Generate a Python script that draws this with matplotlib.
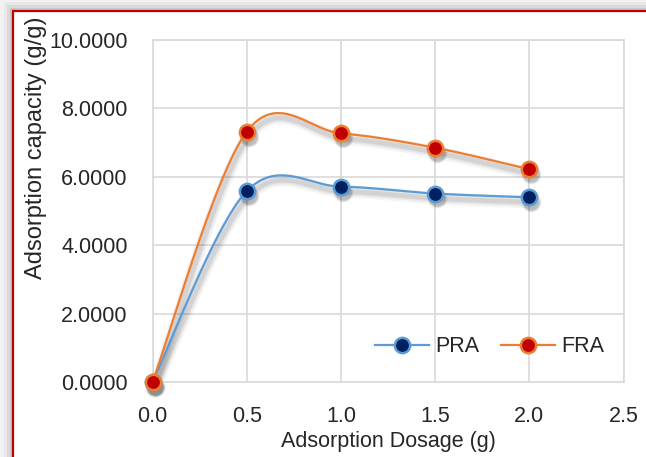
import numpy as np
import matplotlib.pyplot as plt
import matplotlib.transforms as mtransforms
from matplotlib.patches import Rectangle

plt.rcParams['font.family'] = ['Liberation Sans', 'DejaVu Sans']

dosage = [0.0, 0.5, 1.0, 1.5, 2.0]
pra = [0.0, 5.58, 5.71, 5.51, 5.40]
fra = [0.0, 7.32, 7.27, 6.85, 6.22]

text_color = '#262626'
grid_color = '#d9d9d9'
fs = 15.5


def smooth_curve(x, y, n=40):
    # Catmull-Rom style bezier, like the spreadsheet "smoothed line" option
    x = np.asarray(x, float)
    y = np.asarray(y, float)
    px = np.concatenate([[x[0]], x, [x[-1]]])
    py = np.concatenate([[y[0]], y, [y[-1]]])
    xs, ys = [], []
    t = np.linspace(0, 1, n)
    for i in range(1, len(px) - 2):
        p1 = np.array([px[i], py[i]])
        p2 = np.array([px[i + 1], py[i + 1]])
        b1 = p1 + (p2 - np.array([px[i - 1], py[i - 1]])) / 6
        b2 = p2 - (np.array([px[i + 2], py[i + 2]]) - p1) / 6
        pts = ((1 - t) ** 3)[:, None] * p1 + (3 * t * (1 - t) ** 2)[:, None] * b1 \
            + (3 * t ** 2 * (1 - t))[:, None] * b2 + (t ** 3)[:, None] * p2
        xs.extend(pts[:, 0])
        ys.extend(pts[:, 1])
    return np.array(xs), np.array(ys)


fig = plt.figure(figsize=(6.46, 4.57), dpi=100)
fig.patch.set_facecolor('#f2f2f2')

# gray drop shadow around the frame, then the white frame with red border
W, H = 646, 457
for off, col in [(9, '#e8e8e8'), (6, '#d9d9d9'), (3, '#c8c8c8')]:
    fig.patches.append(Rectangle(((13 - off) / W, 0), 1, (H - 11 + off) / H,
                                 transform=fig.transFigure, facecolor=col,
                                 edgecolor='none', zorder=-3))
fig.patches.append(Rectangle((13 / W, -0.1), 1, (H - 11) / H + 0.1,
                             transform=fig.transFigure, facecolor='white',
                             edgecolor='#c00000', linewidth=1.6, zorder=-2))

ax = fig.add_axes([152.5 / W, 1 - 382 / H, (623.5 - 152.5) / W, (382 - 40) / H])
ax.set_facecolor('none')

series = [
    ('PRA', pra, '#5b9bd5', '#002060'),
    ('FRA', fra, '#ed7d31', '#c00000'),
]

shift = ax.transData + mtransforms.ScaledTranslation(1.5 / 72, -3.5 / 72, fig.dpi_scale_trans)
for label, vals, line_col, face_col in series:
    sx, sy = smooth_curve(dosage, vals)
    # soft shadow: a few offset strokes stacked with low alpha
    for lw, a in [(9, 0.04), (6, 0.06), (3.5, 0.08)]:
        ax.plot(sx, sy, color='black', lw=lw, alpha=a, transform=shift,
                solid_capstyle='round', zorder=2)
        ax.plot(dosage, vals, 'o', ms=10 + lw / 2, color='black', alpha=a * 1.5,
                mec='none', transform=shift, zorder=2, clip_on=False)
    ax.plot(sx, sy, color=line_col, lw=1.6, zorder=3)
    ax.plot(dosage, vals, 'o', ms=11, mfc=face_col, mec=line_col, mew=1.8,
            zorder=4, clip_on=False)
    # legend proxy
    ax.plot([], [], '-o', color=line_col, lw=1.6, ms=11, mfc=face_col,
            mec=line_col, mew=1.8, label=label)

ax.set_xlim(0, 2.5)
ax.set_ylim(0, 10)
ax.set_xticks(np.arange(0, 2.51, 0.5))
ax.set_yticks(np.arange(0, 10.1, 2))
ax.set_xticklabels([f'{v:.1f}' for v in np.arange(0, 2.51, 0.5)])
ax.set_yticklabels([f'{v:.4f}' for v in np.arange(0, 10.1, 2)])
ax.grid(True, color=grid_color, lw=1.2, zorder=0)
ax.set_axisbelow(True)
for s in ax.spines.values():
    s.set_color(grid_color)
    s.set_linewidth(1.2)
ax.tick_params(length=0, labelsize=fs, colors=text_color)
ax.tick_params(axis='y', pad=18)
ax.tick_params(axis='x', pad=17)

ax.set_xlabel('Adsorption Dosage (g)', fontsize=fs, color=text_color, labelpad=3)
ax.set_ylabel('Adsorption capacity (g/g)', fontsize=17, color=text_color)
ax.yaxis.set_label_coords(-0.224, 0.684)

leg = ax.legend(loc='lower right', bbox_to_anchor=(1.0, 0.015), ncol=2, frameon=False,
                fontsize=fs, handlelength=2.5, columnspacing=1.0, handletextpad=0.3,
                labelcolor=text_color)

fig.savefig('out.png', dpi=100)
